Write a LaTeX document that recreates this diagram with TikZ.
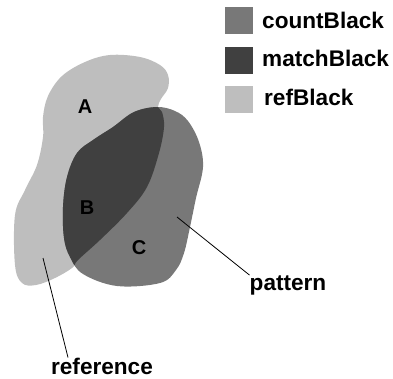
\documentclass[tikz,border=0pt]{standalone}
\usepackage{fontspec}
\setmainfont{Liberation Sans}
\definecolor{refcol}{RGB}{190,190,190}
\definecolor{countcol}{RGB}{120,120,120}
\definecolor{matchcol}{RGB}{64,64,64}
\tikzset{
  lbl/.style={font=\fontsize{22.6}{26}\selectfont\bfseries, inner sep=0pt},
  region/.style={font=\fontsize{20}{24}\selectfont\bfseries, inner sep=0pt},
  swatch/.style={minimum width=28pt, minimum height=27pt, inner sep=0pt},
  leader/.style={draw=black, line width=0.8pt}
}
\begin{document}
\begin{tikzpicture}[x=1pt,y=-1pt]
\useasboundingbox (0,0) rectangle (393,378);
\def\refshape{plot[smooth cycle, tension=0.6] coordinates {
  (158,107) (161,99) (168,88) (168,75) (160,65) (140,57) (110,55) (85,62) (62,76) (48,96)
  (43,117) (43,137) (37,165) (25,190) (15,215) (15,265) (22,283) (36,285) (55,278) (72,268)
  (78,260) (100,240) (127,213) (147,187) (159,153) (164,127) (162,112)}}
\def\patshape{plot[smooth cycle, tension=0.6] coordinates {
  (157,107) (175,111) (188,121) (199,142) (203,167) (196,198) (190,227) (184,253) (176,270)
  (160,283) (117,286) (83,274) (70,257) (64,238) (63,207) (67,177) (77,153) (93,140)
  (113,127) (134,112)}}
\fill[refcol] \refshape;
\fill[countcol] \patshape;
\begin{scope}
  \clip \patshape;
  \fill[matchcol] \refshape;
\end{scope}
% legend
\node[swatch, fill=countcol] (s1) at (239,20.5) {};
\node[swatch, fill=matchcol] (s2) at (239,60) {};
\node[swatch, fill=refcol]   (s3) at (239,99) {};
\node[lbl, anchor=west] (t1) at (262,20) {countBlack};
\node[lbl, anchor=west] (t2) at (262,58) {matchBlack};
\node[lbl, anchor=west] (t3) at (264,97) {refBlack};
% region labels
\node[region] (A) at (85,107) {A};
\node[region] (B) at (87,208) {B};
\node[region] (C) at (139,248) {C};
% callouts
\node[lbl] (pat) at (288,285) {pattern};
\node[lbl] (ref) at (102,366) {reference};
\coordinate (pin) at (177,217);
\coordinate (rin) at (43,258);
\draw[leader] (pin) -- (pat.north west);
\draw[leader] (rin) -- (ref.north -| 68,0);
\end{tikzpicture}
\end{document}
